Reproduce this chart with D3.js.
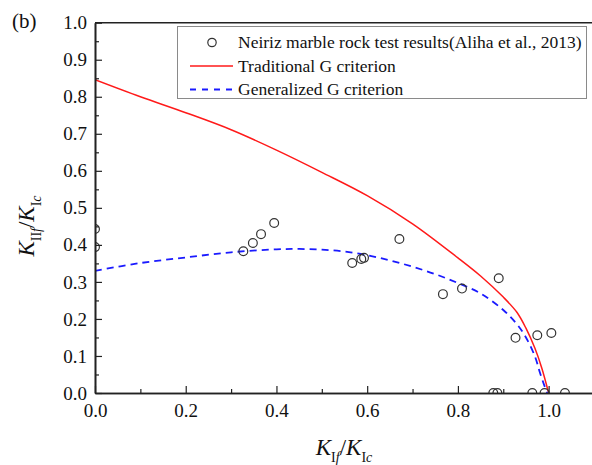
<!DOCTYPE html>
<html>
<head>
<meta charset="utf-8">
<script src="https://cdn.jsdelivr.net/npm/d3@7"></script>
<style>
  body { margin: 0; background: #fff; }
  svg { display: block; }
  svg text { font-family: 'Liberation Serif', 'Times New Roman', serif; }
</style>
</head>
<body>
<svg id="graphic"></svg>
<script>
const traditionalX = [0, 0.1, 0.2, 0.3, 0.4, 0.5, 0.6, 0.7, 0.8, 0.85, 0.9, 0.93, 0.95, 0.97, 0.985, 1.0];
const traditionalY = [0.846, 0.8, 0.757, 0.711, 0.656, 0.596, 0.533, 0.457, 0.365, 0.316, 0.259, 0.218, 0.175, 0.12, 0.067, 0];

const generalizedX = [0, 0.1, 0.2, 0.3, 0.4, 0.45, 0.5, 0.55, 0.6, 0.65, 0.7, 0.75, 0.8, 0.85, 0.9, 0.93, 0.95, 0.97, 0.98, 0.99, 0.997];
const generalizedY = [0.33, 0.351, 0.366, 0.38, 0.388, 0.389, 0.387, 0.382, 0.372, 0.358, 0.341, 0.321, 0.297, 0.269, 0.224, 0.186, 0.15, 0.098, 0.058, 0.022, 0];

const testX = [0, 0, 0.327, 0.348, 0.366, 0.395, 0.567, 0.587, 0.593, 0.671, 0.767, 0.809, 0.89, 0.927, 0.975, 1.006, 0.878, 0.887, 0.964, 0.991, 1.036];
const testY = [0.443, 0.394, 0.383, 0.405, 0.429, 0.459, 0.351, 0.362, 0.365, 0.416, 0.267, 0.282, 0.31, 0.149, 0.156, 0.162, 0, 0, 0, 0, 0];

const xMajor = [0, 0.2, 0.4, 0.6, 0.8, 1.0];
const xMinor = [0.1, 0.3, 0.5, 0.7, 0.9];
const yMajor = [0, 0.1, 0.2, 0.3, 0.4, 0.5, 0.6, 0.7, 0.8, 0.9, 1.0];
const yMinor = [0.05, 0.15, 0.25, 0.35, 0.45, 0.55, 0.65, 0.75, 0.85, 0.95];

const legendLabels = [
  'Neiriz marble rock test results(Aliha et al., 2013)',
  'Traditional G criterion',
  'Generalized G criterion',
];

const SERIF = '\'Liberation Serif\', \'Times New Roman\', serif';
const width = 592;
const height = 465;
const plot = {left: 95, right: 594, top: 22.7, bottom: 393};

const svg = d3.select('#graphic')
    .attr('width', width)
    .attr('height', height)
    .attr('font-family', SERIF);

const xScale = d3.scaleLinear().domain([0, 1.1]).range([plot.left, plot.right]);
const yScale = d3.scaleLinear().domain([0, 1]).range([plot.bottom, plot.top]);

svg.append('defs')
    .append('clipPath')
    .attr('id', 'plot-clip')
    .append('rect')
    .attr('x', plot.left)
    .attr('y', plot.top)
    .attr('width', plot.right - plot.left)
    .attr('height', plot.bottom - plot.top);

const zip = (xs, ys) => xs.map((x, i) => ({x: x, y: ys[i]}));

const line = d3.line()
    .x((d) => xScale(d.x))
    .y((d) => yScale(d.y))
    .curve(d3.curveCatmullRom.alpha(0.5));

const inner = svg.append('g').attr('clip-path', 'url(#plot-clip)');

inner.append('path')
    .datum(zip(traditionalX, traditionalY))
    .attr('d', line)
    .attr('fill', 'none')
    .attr('stroke', '#ff1a1a')
    .attr('stroke-width', 1.5);

inner.append('path')
    .datum(zip(generalizedX, generalizedY))
    .attr('d', line)
    .attr('fill', 'none')
    .attr('stroke', '#1a1aff')
    .attr('stroke-width', 1.8)
    .attr('stroke-dasharray', '7,5');

inner.selectAll('.data_point')
    .data(zip(testX, testY))
    .enter()
    .append('circle')
    .classed('data_point', true)
    .attr('cx', (d) => xScale(d.x))
    .attr('cy', (d) => yScale(d.y))
    .attr('r', 4.4)
    .attr('fill', 'none')
    .attr('stroke', '#333')
    .attr('stroke-width', 1.2);

// top frame line
svg.append('line')
    .attr('x1', plot.left)
    .attr('x2', plot.right)
    .attr('y1', plot.top)
    .attr('y2', plot.top)
    .attr('stroke', '#222')
    .attr('stroke-width', 1.5);

const styleAxis = (g) => {
  g.attr('font-family', SERIF).attr('font-size', 19);
  g.select('.domain').attr('stroke', '#222').attr('stroke-width', 1.6);
  g.selectAll('.tick line').attr('stroke', '#222').attr('stroke-width', 1.2);
  g.selectAll('.tick text').attr('fill', '#111');
};

svg.append('g')
    .attr('transform', `translate(0, ${plot.bottom})`)
    .call(d3.axisBottom(xScale).tickValues(xMinor).tickSize(-4).tickSizeOuter(0).tickFormat(''))
    .call(styleAxis);

svg.append('g')
    .attr('transform', `translate(0, ${plot.bottom})`)
    .call(d3.axisBottom(xScale).tickValues(xMajor).tickSize(-7).tickSizeOuter(0)
        .tickPadding(11).tickFormat(d3.format('.1f')))
    .call(styleAxis);

svg.append('g')
    .attr('transform', `translate(${plot.left}, 0)`)
    .call(d3.axisLeft(yScale).tickValues(yMinor).tickSize(-4).tickSizeOuter(0).tickFormat(''))
    .call(styleAxis);

svg.append('g')
    .attr('transform', `translate(${plot.left}, 0)`)
    .call(d3.axisLeft(yScale).tickValues(yMajor).tickSize(-7).tickSizeOuter(0)
        .tickPadding(8).tickFormat(d3.format('.1f')))
    .call(styleAxis);

// axis titles with sub-scripts
const axisTitle = (g, sub1, sub1It, sub2, sub2It) => {
  const t = g.append('text')
      .attr('text-anchor', 'middle')
      .attr('fill', '#111')
      .style('font-size', '23px');
  t.append('tspan').style('font-style', 'italic').text('K');
  t.append('tspan').attr('dy', 7).style('font-size', '14px').text(sub1);
  t.append('tspan').style('font-size', '14px').style('font-style', 'italic').text(sub1It);
  t.append('tspan').attr('dy', -7).text('/');
  t.append('tspan').style('font-style', 'italic').text('K');
  t.append('tspan').attr('dy', 7).style('font-size', '14px').text(sub2);
  t.append('tspan').style('font-size', '14px').style('font-style', 'italic').text(sub2It);
  return t;
};

axisTitle(svg.append('g').attr('transform', 'translate(344, 455)'), 'I', 'f', 'I', 'c');
axisTitle(svg.append('g').attr('transform', 'translate(34, 226) rotate(-90)'), 'II', 'f', 'I', 'c');

svg.append('text')
    .attr('x', 12)
    .attr('y', 28)
    .attr('fill', '#111')
    .style('font-size', '21px')
    .text('(b)');

// legend
const legend = svg.append('g');
const rowY = [42.5, 66, 89.5];

legend.append('rect')
    .attr('x', 177.5)
    .attr('y', 26.5)
    .attr('width', 409)
    .attr('height', 72)
    .attr('fill', '#fff')
    .attr('stroke', '#8a8a8a')
    .attr('stroke-width', 1);

legend.append('circle')
    .attr('cx', 212)
    .attr('cy', rowY[0])
    .attr('r', 4.2)
    .attr('fill', 'none')
    .attr('stroke', '#333')
    .attr('stroke-width', 1.2);

legend.append('line')
    .attr('x1', 190).attr('x2', 233)
    .attr('y1', rowY[1]).attr('y2', rowY[1])
    .attr('stroke', '#ff1a1a')
    .attr('stroke-width', 1.5);

legend.append('line')
    .attr('x1', 190).attr('x2', 233)
    .attr('y1', rowY[2]).attr('y2', rowY[2])
    .attr('stroke', '#1a1aff')
    .attr('stroke-width', 1.8)
    .attr('stroke-dasharray', '6,6');

legend.selectAll('.legend-label')
    .data(legendLabels)
    .enter()
    .append('text')
    .classed('legend-label', true)
    .attr('x', 238)
    .attr('y', (d, i) => rowY[i] + 5.8)
    .attr('fill', '#111')
    .style('font-size', '17.5px')
    .text((d) => d);
</script>
</body>
</html>
